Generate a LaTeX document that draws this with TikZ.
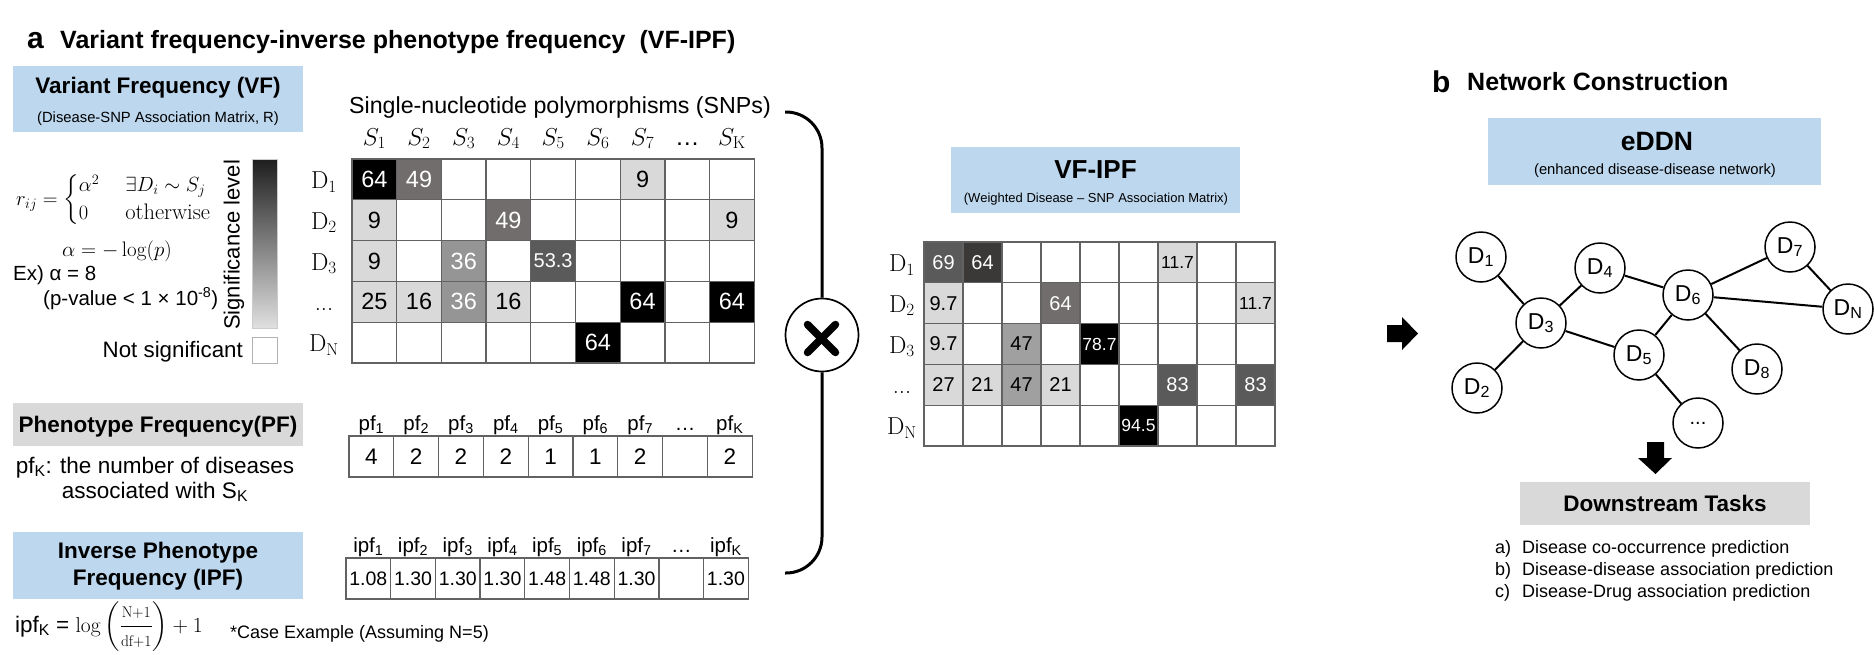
\RequirePackage{fix-cm}
\documentclass[tikz,border=0pt]{standalone}
\usepackage{amsmath}
\usepackage[no-math]{fontspec}
\setsansfont{Liberation Sans}
\definecolor{boxblue}{HTML}{BDD7EE}
\definecolor{boxgray}{HTML}{D9D9D9}
\definecolor{gridc}{HTML}{626262}
\definecolor{lt}{HTML}{D9D9D9}
\definecolor{ga}{HTML}{716D6D}
\definecolor{gb}{HTML}{959595}
\definecolor{gc}{HTML}{5A5A5A}
\definecolor{gd}{HTML}{3B3838}
\definecolor{ge}{HTML}{A0A0A0}
\definecolor{barTop}{HTML}{1E1E1E}
\definecolor{barBot}{HTML}{E0E0E0}
\newcommand\fsz[1]{\fontsize{#1}{#1}\selectfont}
\newcommand\sbs[1]{\textsubscript{#1}}
\newcommand\tdots{...}
\tikzset{
  txt/.style={inner sep=0pt, font=\sffamily\fsz{22.5}},
  bld/.style={inner sep=0pt, font=\sffamily\bfseries\fsz{22.5}},
  mth/.style={inner sep=0pt, font=\rmfamily\fsz{21}},
  bluebox/.style={fill=boxblue, draw=none, inner sep=0pt},
  graybox/.style={fill=boxgray, draw=none, inner sep=0pt},
  cellA/.style={draw=gridc, line width=1.3pt, fill=white, minimum width=44.7pt, minimum height=40.8pt, inner sep=0pt, font=\sffamily\fsz{23.5}},
  cellB/.style={cellA, minimum width=39pt, font=\sffamily\fsz{20}},
  cellP/.style={cellA, minimum width=44.8pt, minimum height=41pt, font=\sffamily\fsz{22.5}},
  cellI/.style={cellA, minimum height=41pt, font=\sffamily\fsz{19.5}},
  dnode/.style={circle, draw, line width=1.5pt, minimum size=50pt, inner sep=0pt, fill=white, font=\sffamily\fsz{23}},
  edge/.style={line width=2pt},
  bracepath/.style={line width=3pt, rounded corners=36pt},
}
\begin{document}
\begin{tikzpicture}[x=1pt,y=-1pt]
\path[fill=white, use as bounding box] (0,0) rectangle (1874,654);

% ---------------- titles
\node[inner sep=0pt, font=\sffamily\bfseries\fsz{30}, anchor=base west] (la) at (27,48) {a};
\node[inner sep=0pt, font=\sffamily\bfseries\fsz{25}, anchor=base west] (ta) at (60,48) {Variant frequency-inverse phenotype frequency \ (VF-IPF)};
\node[inner sep=0pt, font=\sffamily\bfseries\fsz{30}, anchor=base west] (lb) at (1432,92) {b};
\node[inner sep=0pt, font=\sffamily\bfseries\fsz{25}, anchor=base west] (tb) at (1467,90) {Network Construction};

% ---------------- VF box
\node[bluebox, minimum width=290pt, minimum height=66pt] (vfbox) at (158,99) {};
\node[bld, anchor=base] (vft) at (158,93) {Variant Frequency (VF)};
\node[txt, font=\sffamily\fsz{14.8}, anchor=base] (vfs) at (158,122) {(Disease-SNP Association Matrix, R)};

% formula
\node[mth, font=\rmfamily\fsz{20.5}, anchor=west] (rij) at (16,200)
  {$r_{ij}=\def\arraystretch{1.33}\left\{\begin{array}{@{}l@{\hspace{26pt}}l@{}}\alpha^2 & \exists D_i\sim S_j\\ 0 & \text{\fsz{22.5}otherwise}\end{array}\right.$};
\node[mth, anchor=base] (alp) at (117,256) {$\alpha=-\log(p)$};
\node[txt, font=\sffamily\fsz{20.5}, anchor=base west] (ex) at (13,280) {Ex) α = 8};
\node[txt, font=\sffamily\fsz{20.5}, anchor=base west] (pv) at (43,305) {(p-value < 1 × 10\textsuperscript{-8})};

% significance bar
\shade[top color=barTop, bottom color=barBot, draw=gray!40, line width=0.5pt] (252,159) rectangle (277,328);
\node[txt, font=\sffamily\fsz{22}, rotate=90] (sig) at (234,245) {Significance level};
\node[draw=gray!60, line width=1pt, minimum width=25pt, minimum height=26pt, inner sep=0pt] (nsbox) at (264.5,350) {};
\node[txt, font=\sffamily\fsz{22.3}, anchor=base east] (ns) at (243,357) {Not significant};

% ---------------- matrix A
\node[txt, font=\sffamily\fsz{23.2}, anchor=base] (snp) at (560,113) {Single-nucleotide polymorphisms (SNPs)};
\foreach \c/\t in {1/$S_1$,2/$S_2$,3/$S_3$,4/$S_4$,5/$S_5$,6/$S_6$,7/$S_7$,8/{\sffamily …},9/$S_{\mathrm{K}}$}
  \node[mth, font=\rmfamily\fsz{24.5}, anchor=base] (hA-\c) at ({352+(\c-0.5)*44.7},145) {\t};
\foreach \r/\t in {1/$\mathrm{D}_1$,2/$\mathrm{D}_2$,3/$\mathrm{D}_3$,4/\tdots,5/$\mathrm{D}_{\mathrm{N}}$}
  \node[mth, font=\rmfamily\fsz{24.5}, anchor=base] (rA-\r) at (324,{159+(\r-0.5)*40.8+9}) {\t};
\foreach \r in {1,2,3,4,5}
  \foreach \c in {1,2,3,4,5,6,7,8,9}
    \node[cellA] (mA-\r-\c) at ({352+(\c-0.5)*44.7},{159+(\r-0.5)*40.8}) {};
\foreach \c/\r/\f/\t/\s/\v in {1/1/black/white/23.5/64, 2/1/ga/white/23.5/49, 7/1/lt/black/23.5/9,
   1/2/lt/black/23.5/9, 4/2/ga/white/23.5/49, 9/2/lt/black/23.5/9,
   1/3/lt/black/23.5/9, 3/3/gb/white/23.5/36, 5/3/gc/white/20/53.3,
   1/4/lt/black/23.5/25, 2/4/lt/black/23.5/16, 3/4/gb/white/23.5/36, 4/4/lt/black/23.5/16, 7/4/black/white/23.5/64, 9/4/black/white/23.5/64,
   6/5/black/white/23.5/64}
  \node[cellA, fill=\f, text=\t, font=\sffamily\fsz{\s}] (vA-\r-\c) at ({352+(\c-0.5)*44.7},{159+(\r-0.5)*40.8}) {\v};

% ---------------- PF
\node[graybox, minimum width=290pt, minimum height=43pt] (pfbox) at (158,424.5) {};
\node[bld, anchor=base] (pft) at (158,432) {Phenotype Frequency(PF)};
\node[txt, anchor=base, text depth=2pt] (pfd1) at (155,473) {pf\sbs{K}: the number of diseases};
\node[txt, anchor=base, text height=16pt] (pfd2) at (155,498) {associated with S\sbs{K}};
\foreach \c/\t in {1/1,2/2,3/3,4/4,5/5,6/6,7/7,9/K}
  \node[txt, font=\sffamily\fsz{20.5}, anchor=base] (hP-\c) at ({349+(\c-0.5)*44.8},430) {pf\sbs{\t}};
\node[txt, font=\sffamily\fsz{20.5}, anchor=base] (hP-8) at ({349+7.5*44.8},430) {…};
\foreach \c/\v in {1/4,2/2,3/2,4/2,5/1,6/1,7/2,8/{},9/2}
  \node[cellP] (mP-\c) at ({349+(\c-0.5)*44.8},456.5) {\v};

% ---------------- IPF
\node[bluebox, minimum width=290pt, minimum height=67pt] (ipfbox) at (158,565.5) {};
\node[bld, anchor=base] (ipft1) at (158,558) {Inverse Phenotype};
\node[bld, anchor=base] (ipft2) at (158,585) {Frequency (IPF)};
\node[txt, anchor=base west] (ipff) at (15,632) {ipf\sbs{K} = \rmfamily\fsz{21.5}$\log\left(\dfrac{\mbox{\fsz{15.5}N+1}}{\mbox{\fsz{15.5}df+1}}\right)+1$};
\node[txt, font=\sffamily\fsz{18}, anchor=base west] (case) at (230,638) {*Case Example (Assuming N=5)};
\foreach \c/\t in {1/1,2/2,3/3,4/4,5/5,6/6,7/7,9/K}
  \node[txt, font=\sffamily\fsz{20.5}, anchor=base] (hI-\c) at ({346+(\c-0.5)*44.7},552) {ipf\sbs{\t}};
\node[txt, font=\sffamily\fsz{20.5}, anchor=base] (hI-8) at ({346+7.5*44.7},552) {…};
\foreach \c/\v in {1/1.08,2/1.30,3/1.30,4/1.30,5/1.48,6/1.48,7/1.30,8/{},9/1.30}
  \node[cellI] (mI-\c) at ({346+(\c-0.5)*44.7},578.5) {\v};

% ---------------- brace and multiplication
\node[circle, draw, line width=1.7pt, minimum size=73pt, inner sep=0pt] (times) at (822,335) {};
\coordinate (brtop) at (785,112);
\coordinate (brbot) at (785,573);
\draw[bracepath] (brtop) -- (822,112) -- (times.north);
\draw[bracepath] (times.south) -- (822,573) -- (brbot);
\draw[line width=7.5pt, line cap=round] (807.5,324.5) -- (835.5,352.5);
\draw[line width=7.5pt, line cap=round] (807.5,352.5) -- (835.5,324.5);

% ---------------- VF-IPF
\node[bluebox, minimum width=289pt, minimum height=66pt] (wbox) at (1095.5,180) {};
\node[bld, font=\sffamily\bfseries\fsz{26}, anchor=base] (wt) at (1095.5,178) {VF-IPF};
\node[txt, font=\sffamily\fsz{13}, anchor=base] (ws) at (1096,202) {(Weighted Disease – SNP Association Matrix)};
\foreach \r/\t in {1/$\mathrm{D}_1$,2/$\mathrm{D}_2$,3/$\mathrm{D}_3$,4/\tdots,5/$\mathrm{D}_{\mathrm{N}}$}
  \node[mth, font=\rmfamily\fsz{24.5}, anchor=base] (rB-\r) at (902,{242+(\r-0.5)*40.8+9}) {\t};
\foreach \r in {1,2,3,4,5}
  \foreach \c in {1,2,3,4,5,6,7,8,9}
    \node[cellB] (mB-\r-\c) at ({924+(\c-0.5)*39},{242+(\r-0.5)*40.8}) {};
\foreach \c/\r/\f/\t/\s/\v in {1/1/gc/white/20/69, 2/1/gd/white/20/64, 7/1/lt/black/17.5/11.7,
   1/2/lt/black/20/9.7, 4/2/ga/white/20/64, 9/2/lt/black/17.5/11.7,
   1/3/lt/black/20/9.7, 3/3/ge/black/20/47, 5/3/black/white/17.5/78.7,
   1/4/lt/black/20/27, 2/4/lt/black/20/21, 3/4/ge/black/20/47, 4/4/lt/black/20/21, 7/4/gc/white/20/83, 9/4/gc/white/20/83,
   6/5/black/white/17.5/94.5}
  \node[cellB, fill=\f, text=\t, font=\sffamily\fsz{\s}] (vB-\r-\c) at ({924+(\c-0.5)*39},{242+(\r-0.5)*40.8}) {\v};

% right arrow
\fill (1387,325) -- (1402,325) -- (1402,317) -- (1418,333.5) -- (1402,350) -- (1402,342) -- (1387,342) -- cycle;

% ---------------- eDDN
\node[bluebox, minimum width=333pt, minimum height=67pt] (ebox) at (1654.5,151.5) {};
\node[bld, font=\sffamily\bfseries\fsz{26.5}, anchor=base] (et) at (1657,150) {eDDN};
\node[txt, font=\sffamily\fsz{14.8}, anchor=base] (es) at (1655,174) {(enhanced disease-disease network)};

\node[dnode] (n1) at (1481,257) {D\sbs{1}};
\node[dnode] (n4) at (1600,268) {D\sbs{4}};
\node[dnode] (n3) at (1541,323) {D\sbs{3}};
\node[dnode] (n2) at (1477,388) {D\sbs{2}};
\node[dnode] (n6) at (1688,295) {D\sbs{6}};
\node[dnode] (n5) at (1639,355) {D\sbs{5}};
\node[dnode] (n7) at (1790,247) {D\sbs{7}};
\node[dnode] (nN) at (1848,309) {D\sbs{N}};
\node[dnode] (n8) at (1757,369) {D\sbs{8}};
\node[dnode, font=\sffamily\fsz{20}] (nd) at (1698,423) {\tdots};
\draw[edge] (n1) -- (n3);
\draw[edge] (n3) -- (n4);
\draw[edge] (n3) -- (n2);
\draw[edge] (n3) -- (n5);
\draw[edge] (n4) -- (n6);
\draw[edge] (n6) -- (n7);
\draw[edge] (n6) -- (nN);
\draw[edge] (n7) -- (nN);
\draw[edge] (n6) -- (n5);
\draw[edge] (n6) -- (n8);
\draw[edge] (n5) -- (nd);

% down arrow
\fill (1647,442) -- (1664,442) -- (1664,458) -- (1672,458) -- (1655.5,474) -- (1638,458) -- (1647,458) -- cycle;

% ---------------- downstream
\node[graybox, minimum width=290pt, minimum height=43pt] (dbox) at (1665,503.5) {};
\node[bld, anchor=base] (dt) at (1665,511) {Downstream Tasks};
\node[txt, font=\sffamily\fsz{18}, anchor=base west] (l1) at (1495,553) {\makebox[27pt][l]{a)}Disease co-occurrence prediction};
\node[txt, font=\sffamily\fsz{18}, anchor=base west] (l2) at (1495,575) {\makebox[27pt][l]{b)}Disease-disease association prediction};
\node[txt, font=\sffamily\fsz{18}, anchor=base west] (l3) at (1495,597) {\makebox[27pt][l]{c)}Disease-Drug association prediction};
\end{tikzpicture}
\end{document}
